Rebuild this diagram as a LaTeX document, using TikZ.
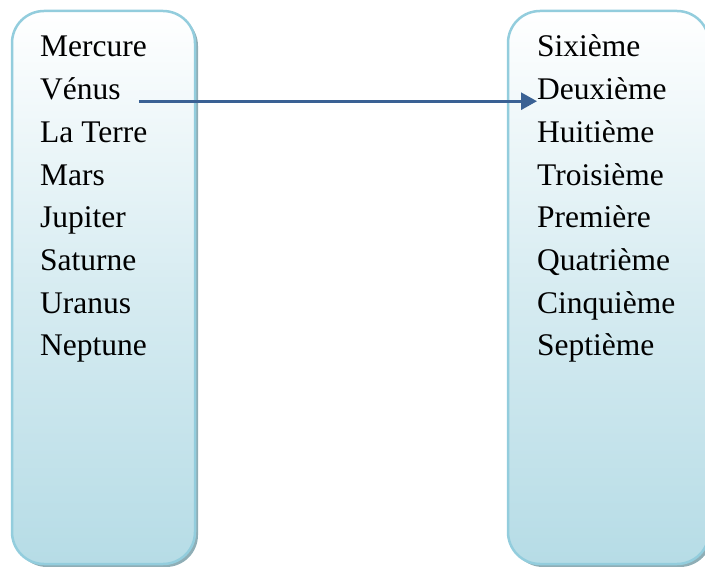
\documentclass[tikz,border=0pt]{standalone}
\usepackage{fontspec}
\setmainfont{Liberation Serif}
\usetikzlibrary{arrows.meta}
\definecolor{panelborder}{HTML}{93CDDD}
\definecolor{panelbottom}{HTML}{B6DCE6}
\definecolor{panelshadow}{HTML}{8FAEB6}
\definecolor{linkblue}{HTML}{3A6194}
\tikzset{
  panel/.style={draw=panelborder, line width=2.5pt, rounded corners=32pt,
    top color=white, bottom color=panelbottom, middle color=white!45!panelbottom},
  panelshade/.style={fill=panelshadow, rounded corners=32pt},
  item/.style={anchor=base west, inner sep=0pt, font=\fontsize{31.5}{36}\selectfont},
  link/.style={draw=linkblue, line width=2.8pt, -{Triangle[length=16pt,width=17pt]}}
}
\begin{document}
\begin{tikzpicture}[x=1pt,y=-1pt]
\useasboundingbox (0,0) rectangle (705,567);
% drop shadows of the two panels
\fill[panelshade] (15,14) rectangle (198,567);
\fill[panelshade] (511,14) rectangle (712,567);
% panels
\path[panel] (12,11) rectangle (195,564);
\path[panel] (508,11) rectangle (709,564);
% planet names
\foreach \name/\txt [count=\i from 0] in
  {mer/Mercure, ven/Vénus, ter/La Terre, mar/Mars, jup/Jupiter, sat/Saturne, ura/Uranus, nep/Neptune}
  \node[item] (\name) at (40,57+42.7*\i) {\txt};
% ranks
\foreach \name/\txt [count=\i from 0] in
  {six/Sixième, deux/Deuxième, huit/Huitième, trois/Troisième, prem/Première, quat/Quatrième, cinq/Cinquième, sept/Septième}
  \node[item] (\name) at (537,57+42.7*\i) {\txt};
% link
\draw[link] ([xshift=18pt,yshift=-1.5pt]ven.base east) -- ([yshift=-1.5pt]deux.base west);
\end{tikzpicture}
\end{document}
